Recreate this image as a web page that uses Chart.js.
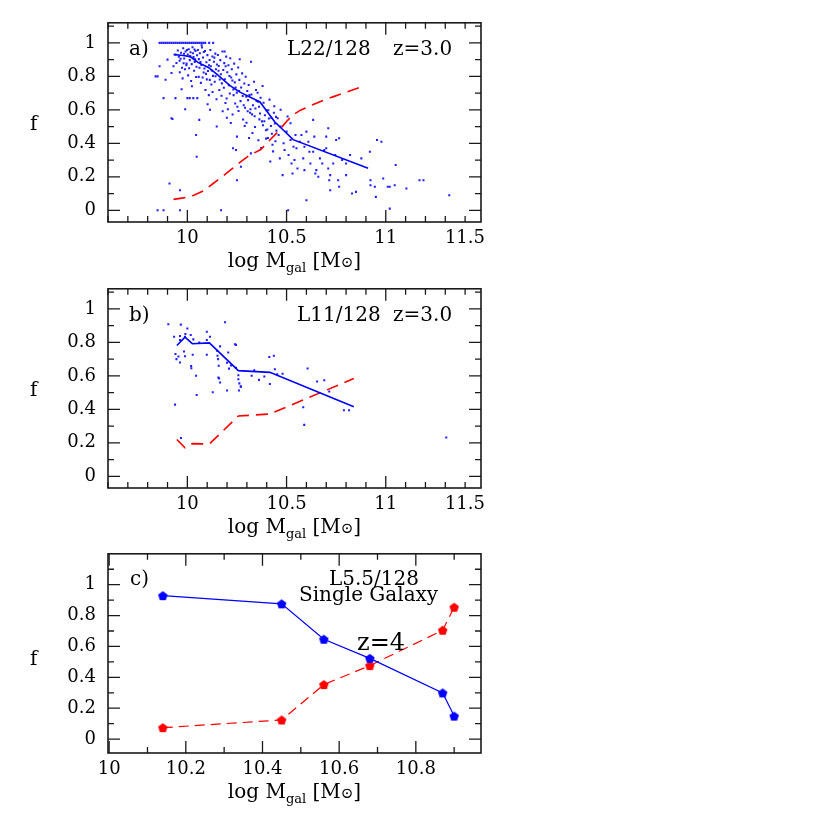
<!DOCTYPE html>
<html>
<head>
<meta charset="utf-8">
<script src="https://cdn.jsdelivr.net/npm/chart.js@4.4.1/dist/chart.umd.min.js"></script>
<style>
  html, body { margin: 0; padding: 0; background: #fff; }
  #wrap { position: relative; width: 830px; height: 830px; background: #fff; }
  canvas { position: absolute; left: 0; }
</style>
</head>
<body>
<div id="wrap">
  <canvas id="panelA" width="830" height="290" style="top:0px"></canvas>
  <canvas id="panelB" width="830" height="290" style="top:266px"></canvas>
  <canvas id="panelC" width="830" height="299" style="top:531px"></canvas>
</div>
<script>
// ---- tick labels ----
const fTicks = [0, 0.2, 0.4, 0.6, 0.8, 1];
const massTicksAB = [10, 10.5, 11, 11.5];
const massTicksC = [10, 10.2, 10.4, 10.6, 10.8];

// ---- panel a: L22/128 z=3.0 ----
const lineMassA = [9.93, 9.98, 10.014, 10.055, 10.106, 10.148, 10.215, 10.265, 10.366, 10.44, 10.533, 10.911];
const lineBlueA = [0.931, 0.925, 0.918, 0.882, 0.853, 0.814, 0.745, 0.706, 0.647, 0.529, 0.422, 0.251];
const dashMassA = [9.93, 9.98, 10.03, 10.08, 10.13, 10.19, 10.25, 10.31, 10.37, 10.40, 10.45, 10.50, 10.53, 10.57, 10.65, 10.73, 10.88];
const dashRedA = [0.065, 0.074, 0.088, 0.115, 0.16, 0.214, 0.272, 0.326, 0.363, 0.40, 0.461, 0.53, 0.568, 0.598, 0.64, 0.676, 0.739];
const onesMassA = [9.86, 9.87, 9.88, 9.89, 9.90, 9.91, 9.92, 9.93, 9.94, 9.95, 9.96, 9.97, 9.98, 9.99, 10.0, 10.01, 10.02, 10.03, 10.04, 10.05, 10.06, 10.07, 10.08, 10.09, 10.11, 10.13];
const dotsA = [
  [9.84,0.80],[9.85,0.80],[9.86,0.86],[9.89,0.78],[9.88,0.67],[9.92,0.55],[9.925,0.545],[9.91,0.16],[9.85,0],[9.88,0],
  [9.90,0.90],[9.93,0.86],[9.94,0.67],[9.94,0.93],[9.945,0.88],[9.92,0.82],[9.963,0.12],[9.963,0],
  [9.952,0.955],[9.957,0.918],[9.961,0.893],[9.968,0.941],[9.973,0.852],[9.979,0.968],[9.984,0.907],[9.991,0.948],[9.996,0.876],[10.002,0.931],
  [10.007,0.962],[10.012,0.897],[10.016,0.944],[10.022,0.873],[10.026,0.974],[10.031,0.915],[10.037,0.886],[10.041,0.951],[10.046,0.858],[10.049,0.926],
  [9.962,0.824],[9.976,0.788],[9.988,0.842],[10.004,0.806],[10.019,0.772],[10.034,0.834],[10.044,0.796],[9.971,0.723],[10.023,0.741],[9.989,0.604],
  [10.0,0.67],[10.012,0.67],[10.03,0.67],[10.05,0.67],[10.044,0.45],[10.047,0.32],
  [9.966,0.905],[9.983,0.935],[9.998,0.958],[10.014,0.921],[10.028,0.938],[10.039,0.902],[9.995,0.866],[10.009,0.849],[10.036,0.961],[9.981,0.878],
  [10.053,0.957],[10.058,0.903],[10.063,0.938],[10.071,0.868],[10.074,0.972],[10.079,0.913],[10.086,0.847],[10.089,0.951],[10.096,0.884],[10.101,0.927],
  [10.104,0.832],[10.112,0.898],[10.116,0.958],[10.118,0.861],[10.126,0.919],[10.129,0.803],[10.134,0.887],[10.141,0.936],[10.144,0.842],[10.149,0.871],
  [10.057,0.797],[10.068,0.761],[10.082,0.823],[10.091,0.718],[10.098,0.782],[10.108,0.688],[10.121,0.752],[10.127,0.707],[10.138,0.768],[10.147,0.663],
  [10.06,0.54],[10.114,0.60],[10.148,0.50],[10.102,0.633],[10.072,0.985],
  [10.066,0.885],[10.083,0.946],[10.094,0.815],[10.109,0.867],[10.123,0.835],[10.136,0.912],[10.061,0.851],[10.077,0.793],[10.113,0.779],[10.142,0.801],
  [10.154,0.928],[10.158,0.862],[10.166,0.897],[10.169,0.813],[10.177,0.948],[10.181,0.838],[10.186,0.879],[10.189,0.783],[10.196,0.918],[10.201,0.824],
  [10.207,0.866],[10.209,0.747],[10.216,0.908],[10.221,0.793],[10.224,0.843],[10.232,0.722],[10.236,0.876],[10.239,0.764],[10.247,0.812],[10.249,0.703],
  [10.161,0.718],[10.172,0.684],[10.178,0.592],[10.192,0.641],[10.198,0.668],[10.204,0.603],[10.214,0.698],[10.219,0.521],[10.228,0.572],[10.241,0.638],
  [10.252,0.618],[10.17,0],[10.25,0.44],[10.23,0.37],[10.245,0.36],[10.25,0.18],[10.199,0.553],
  [10.163,0.781],[10.174,0.758],[10.184,0.732],[10.193,0.861],[10.212,0.802],[10.227,0.775],[10.243,0.733],[10.157,0.833],[10.188,0.948],[10.233,0.688],
  [10.256,0.853],[10.262,0.779],[10.264,0.902],[10.271,0.734],[10.276,0.818],[10.279,0.683],[10.287,0.757],[10.291,0.612],[10.294,0.798],[10.302,0.713],
  [10.306,0.658],[10.309,0.748],[10.316,0.583],[10.321,0.887],[10.323,0.692],[10.331,0.628],[10.336,0.768],[10.339,0.562],[10.346,0.718],[10.349,0.653],
  [10.258,0.593],[10.281,0.542],[10.298,0.523],[10.318,0.603],[10.328,0.462],[10.27,0.26],[10.32,0.34],[10.289,0.503],[10.341,0.497],[10.311,0.432],
  [10.268,0.652],[10.284,0.627],[10.297,0.678],[10.313,0.688],[10.326,0.573],[10.343,0.608],[10.261,0.712],[10.304,0.592],
  [10.354,0.702],[10.361,0.618],[10.366,0.578],[10.369,0.672],[10.376,0.531],[10.381,0.508],[10.384,0.642],[10.391,0.568],[10.396,0.478],[10.399,0.597],
  [10.406,0.432],[10.411,0.548],[10.414,0.661],[10.421,0.503],[10.426,0.457],[10.429,0.392],[10.436,0.583],[10.441,0.518],[10.444,0.412],[10.449,0.476],
  [10.372,0.372],[10.403,0.483],[10.397,0.428],[10.432,0.352],[10.418,0.292],[10.438,0.622],[10.358,0.418],[10.379,0.742],
  [10.363,0.543],[10.388,0.532],[10.408,0.598],[10.423,0.553],[10.447,0.558],[10.357,0.648],
  [10.455,0.55],[10.46,0.45],[10.466,0.31],[10.47,0.50],[10.48,0.21],[10.485,0.40],[10.49,0.36],[10.50,0.47],[10.505,0.56],[10.508,0],
  [10.51,0.33],[10.52,0.42],[10.525,0.28],[10.53,0.22],[10.535,0.38],[10.54,0.30],[10.545,0.45],[10.55,0.37],[10.47,0.60],[10.52,0.52],
  [10.555,0.25],[10.567,0.41],[10.575,0.45],[10.584,0.31],[10.59,0.24],[10.60,0.06],[10.61,0.41],[10.615,0.35],[10.62,0.28],[10.634,0.54],
  [10.634,0.35],[10.64,0.44],[10.645,0.22],[10.65,0.24],[10.59,0.38],[10.60,0.47],
  [10.66,0.20],[10.668,0.31],[10.68,0.28],[10.69,0.36],[10.70,0.44],[10.70,0.37],[10.71,0.49],[10.71,0.25],[10.715,0.18],[10.72,0.21],
  [10.72,0.12],[10.735,0.28],[10.75,0.42],[10.745,0.33],
  [10.765,0.43],[10.76,0.18],[10.765,0.14],[10.78,0.30],[10.80,0.28],[10.80,0.21],[10.83,0.10],[10.85,0.11],[10.82,0.33],
  [10.877,0.31],[10.92,0.35],[10.923,0.18],[10.923,0.15],[10.945,0.14],[10.95,0.08],[10.956,0.42],[10.978,0.41],[10.987,0.19],
  [11.01,0.14],[11.02,0.14],[11.02,0.01],[11.045,0.15],[11.05,0.27],[11.104,0.13],[11.17,0.18],[11.19,0.18],[11.32,0.09]
];

// ---- panel b: L11/128 z=3.0 ----
const lineMassB = [9.947, 9.988, 10.025, 10.111, 10.257, 10.416, 10.839];
const lineBlueB = [0.781, 0.831, 0.792, 0.797, 0.631, 0.621, 0.415];
const dashRedB = [0.22, 0.17, 0.195, 0.193, 0.36, 0.372, 0.584];
const dotsB = [
  [9.904,0.908],[9.967,0.906],[10.0,0.883],[9.933,0.834],[9.963,0.838],[9.963,0.814],[9.988,0.834],[9.99,0.85],[10.017,0.844],[10.03,0.818],
  [10.098,0.863],[10.098,0.814],[10.114,0.834],[10.19,0.92],[10.06,0.799],[9.94,0.73],[9.945,0.70],[9.955,0.715],[9.963,0.68],[9.983,0.746],
  [9.988,0.717],[10.027,0.726],[10.098,0.726],[10.165,0.776],[10.15,0.75],[10.152,0.72],[10.155,0.70],[10.158,0.66],[10.206,0.74],[10.245,0.785],
  [10.20,0.678],[10.22,0.662],[10.21,0.643],[10.019,0.658],[10.02,0.645],[10.044,0.60],[10.16,0.584],[10.257,0.603],[10.257,0.58],[10.27,0.535],
  [10.26,0.512],[10.20,0.512],[10.128,0.502],[10.047,0.486],[9.938,0.428],[9.968,0.229],[10.337,0.633],[10.324,0.60],[10.361,0.576],[10.388,0.596],
  [10.416,0.551],[10.413,0.713],[10.436,0.72],[10.441,0.639],[10.453,0.609],[10.48,0.613],[10.262,0.555],[10.269,0.537],[10.156,0.59],[10.165,0.56],
  [10.245,0.648],[10.24,0.789],[10.606,0.644],[10.654,0.566],[10.69,0.574],[10.715,0.506],[10.584,0.412],[10.589,0.307],[10.789,0.395],[10.815,0.395],
  [11.305,0.232]
];

// ---- panel c: L5.5/128 single galaxy z=4 ----
const massC = [10.14, 10.45, 10.56, 10.68, 10.87, 10.90];
const blueC = [0.929, 0.876, 0.647, 0.523, 0.299, 0.149];
const redC = [0.074, 0.124, 0.353, 0.476, 0.705, 0.854];

const BLUE = '#0000ff';
const RED = '#ff0000';
const FONT = 'DejaVu Serif';

const pts = (xs, ys) => xs.map((v, i) => ({ x: v, y: ys[i] }));
const pairs = arr => arr.map(p => ({ x: p[0], y: p[1] }));
const steps = (a, b, s) => { const out = []; for (let i = 0; a + i * s <= b + 1e-9; i++) out.push(Math.round((a + i * s) * 1000) / 1000); return out; };

function pentagon(color) {
    const c = document.createElement('canvas');
    c.width = 11; c.height = 11;
    const g = c.getContext('2d');
    g.fillStyle = color;
    g.beginPath();
    for (let i = 0; i < 5; i++) {
        const a = -Math.PI / 2 + i * 2 * Math.PI / 5;
        g.lineTo(5.5 + 5 * Math.cos(a), 6 + 5 * Math.sin(a));
    }
    g.closePath();
    g.fill();
    return c;
}

function drawMassTitle(ctx, cx, base) {
    const parts = [
        { t: 'log M', f: '20px ' + FONT, dy: 0 },
        { t: 'gal', f: '13px ' + FONT, dy: 5 },
        { t: ' [M', f: '20px ' + FONT, dy: 0 },
        { t: '\u2299', f: '15px ' + FONT, dy: 0 },
        { t: ']', f: '20px ' + FONT, dy: 0 }
    ];
    let w = 0;
    parts.forEach(p => { ctx.font = p.f; p.w = ctx.measureText(p.t).width; w += p.w; });
    let x = cx - w / 2;
    parts.forEach(p => { ctx.font = p.f; ctx.fillText(p.t, x, base + p.dy); x += p.w; });
}

// frame, inward ticks on all sides, and the text annotations
const frameTicks = {
    id: 'frameTicks',
    afterDatasetsDraw(chart, args, o) {
        const { ctx, chartArea: a, scales: { x, y } } = chart;
        ctx.save();
        ctx.strokeStyle = '#1a1a1a';
        ctx.lineWidth = 1.3;
        ctx.beginPath();
        const xt = (v, len) => {
            const px = x.getPixelForValue(v);
            if (px < a.left - 0.5 || px > a.right + 0.5) return;
            ctx.moveTo(px, a.bottom); ctx.lineTo(px, a.bottom - len);
            ctx.moveTo(px, a.top); ctx.lineTo(px, a.top + len);
        };
        const yt = (v, len) => {
            const py = y.getPixelForValue(v);
            if (py < a.top - 0.5 || py > a.bottom + 0.5) return;
            ctx.moveTo(a.left, py); ctx.lineTo(a.left + len, py);
            ctx.moveTo(a.right, py); ctx.lineTo(a.right - len, py);
        };
        o.xMinor.forEach(v => xt(v, 6));
        o.xMajor.forEach(v => xt(v, 12));
        o.yMinor.forEach(v => yt(v, 6));
        o.yMajor.forEach(v => yt(v, 12));
        ctx.stroke();
        ctx.lineWidth = 1.6;
        ctx.strokeRect(a.left, a.top, a.width, a.height);

        ctx.fillStyle = '#000';
        ctx.textAlign = 'left';
        ctx.textBaseline = 'alphabetic';
        o.notes.forEach(n => {
            ctx.font = (n.size || 20) + 'px ' + FONT;
            ctx.fillText(n.text, a.left + n.dx, a.top + n.dy);
        });
        ctx.font = '20px ' + FONT;
        ctx.fillText('f', 30, y.getPixelForValue(0.5) + 3);
        drawMassTitle(ctx, (a.left + a.right) / 2, a.bottom + 45);
        ctx.restore();
    }
};

function makePanel(id, p) {
    const tickFont = { family: FONT, size: 18 };
    return new Chart(document.getElementById(id), {
        type: 'scatter',
        data: { datasets: p.datasets },
        options: {
            responsive: false,
            animation: false,
            events: [],
            layout: { padding: { top: 20, right: 349, left: 0, bottom: 0 } },
            plugins: { legend: { display: false }, tooltip: { enabled: false }, frameTicks: p.deco },
            scales: {
                x: {
                    type: 'linear', min: p.xMin, max: p.xMax,
                    afterFit: s => { s.height = p.xAxisH; },
                    afterBuildTicks: s => { s.ticks = p.xLabels.map(v => ({ value: v })); },
                    grid: { display: false, drawTicks: false },
                    border: { display: false },
                    ticks: {
                        align: p.xAlign, padding: 6, color: '#000', font: tickFont,
                        maxRotation: 0, autoSkip: false,
                        callback: v => (v === p.xMin ? '' : String(v))
                    }
                },
                y: {
                    type: 'linear', min: p.yMin, max: p.yMax,
                    afterFit: s => { s.width = 108; },
                    afterBuildTicks: s => { s.ticks = fTicks.map(v => ({ value: v })); },
                    grid: { display: false, drawTicks: false },
                    border: { display: false },
                    ticks: { padding: 12, color: '#000', font: tickFont, autoSkip: false, callback: v => String(v) }
                }
            }
        },
        plugins: [frameTicks]
    });
}

const fMinorAB = steps(0, 1.1, 0.1);
const massMinorAB = steps(9.6, 11.5, 0.1);

makePanel('panelA', {
    xMin: 9.6, xMax: 11.48, yMin: -0.07, yMax: 1.12, xAxisH: 68, xAlign: 'inner',
    xLabels: [9.6].concat(massTicksAB),
    deco: {
        xMajor: massTicksAB, xMinor: massMinorAB, yMajor: fTicks, yMinor: fMinorAB,
        notes: [{ text: 'a)', dx: 21, dy: 32 }, { text: 'L22/128', dx: 179, dy: 32 }, { text: 'z=3.0', dx: 285, dy: 32 }]
    },
    datasets: [
        { data: pts(lineMassA, lineBlueA), showLine: true, borderColor: BLUE, borderWidth: 1.6, pointRadius: 0, order: 1 },
        { data: pts(dashMassA, dashRedA), showLine: true, borderColor: RED, borderWidth: 1.6, borderDash: [12, 7], pointRadius: 0, order: 2 },
        { data: pairs(dotsA).concat(onesMassA.map(m => ({ x: m, y: 1 }))), pointStyle: 'rect', pointRadius: 1.45,
          backgroundColor: '#1f1fff', borderWidth: 0, order: 3 }
    ]
});

makePanel('panelB', {
    xMin: 9.6, xMax: 11.48, yMin: -0.07, yMax: 1.12, xAxisH: 68, xAlign: 'inner',
    xLabels: [9.6].concat(massTicksAB),
    deco: {
        xMajor: massTicksAB, xMinor: massMinorAB, yMajor: fTicks, yMinor: fMinorAB,
        notes: [{ text: 'b)', dx: 21, dy: 32 }, { text: 'L11/128', dx: 189, dy: 32 }, { text: 'z=3.0', dx: 285, dy: 32 }]
    },
    datasets: [
        { data: pts(lineMassB, lineBlueB), showLine: true, borderColor: BLUE, borderWidth: 1.6, pointRadius: 0, order: 1 },
        { data: pts(lineMassB, dashRedB), showLine: true, borderColor: RED, borderWidth: 1.6, borderDash: [12, 7], pointRadius: 0, order: 2 },
        { data: pairs(dotsB), pointStyle: 'rect', pointRadius: 1.45, backgroundColor: '#1f1fff', borderWidth: 0, order: 3 }
    ]
});

makePanel('panelC', {
    xMin: 9.997, xMax: 10.97, yMin: -0.09, yMax: 1.2, xAxisH: 77, xAlign: 'center',
    xLabels: massTicksC,
    deco: {
        xMajor: massTicksC, xMinor: steps(10.1, 10.9, 0.2), yMajor: fTicks, yMinor: fMinorAB,
        notes: [{ text: 'c)', dx: 22, dy: 31 }, { text: 'L5.5/128', dx: 221, dy: 31 },
                { text: 'Single Galaxy', dx: 191, dy: 47 }, { text: 'z=4', dx: 249, dy: 96, size: 24 }]
    },
    datasets: [
        { data: pts(massC, blueC), showLine: true, borderColor: BLUE, borderWidth: 1.2,
          pointStyle: pentagon(BLUE), pointRadius: 5, order: 1 },
        { data: pts(massC, redC), showLine: true, borderColor: RED, borderWidth: 1.2, borderDash: [10, 6],
          pointStyle: pentagon(RED), pointRadius: 5, order: 2 }
    ]
});
</script>
</body>
</html>
